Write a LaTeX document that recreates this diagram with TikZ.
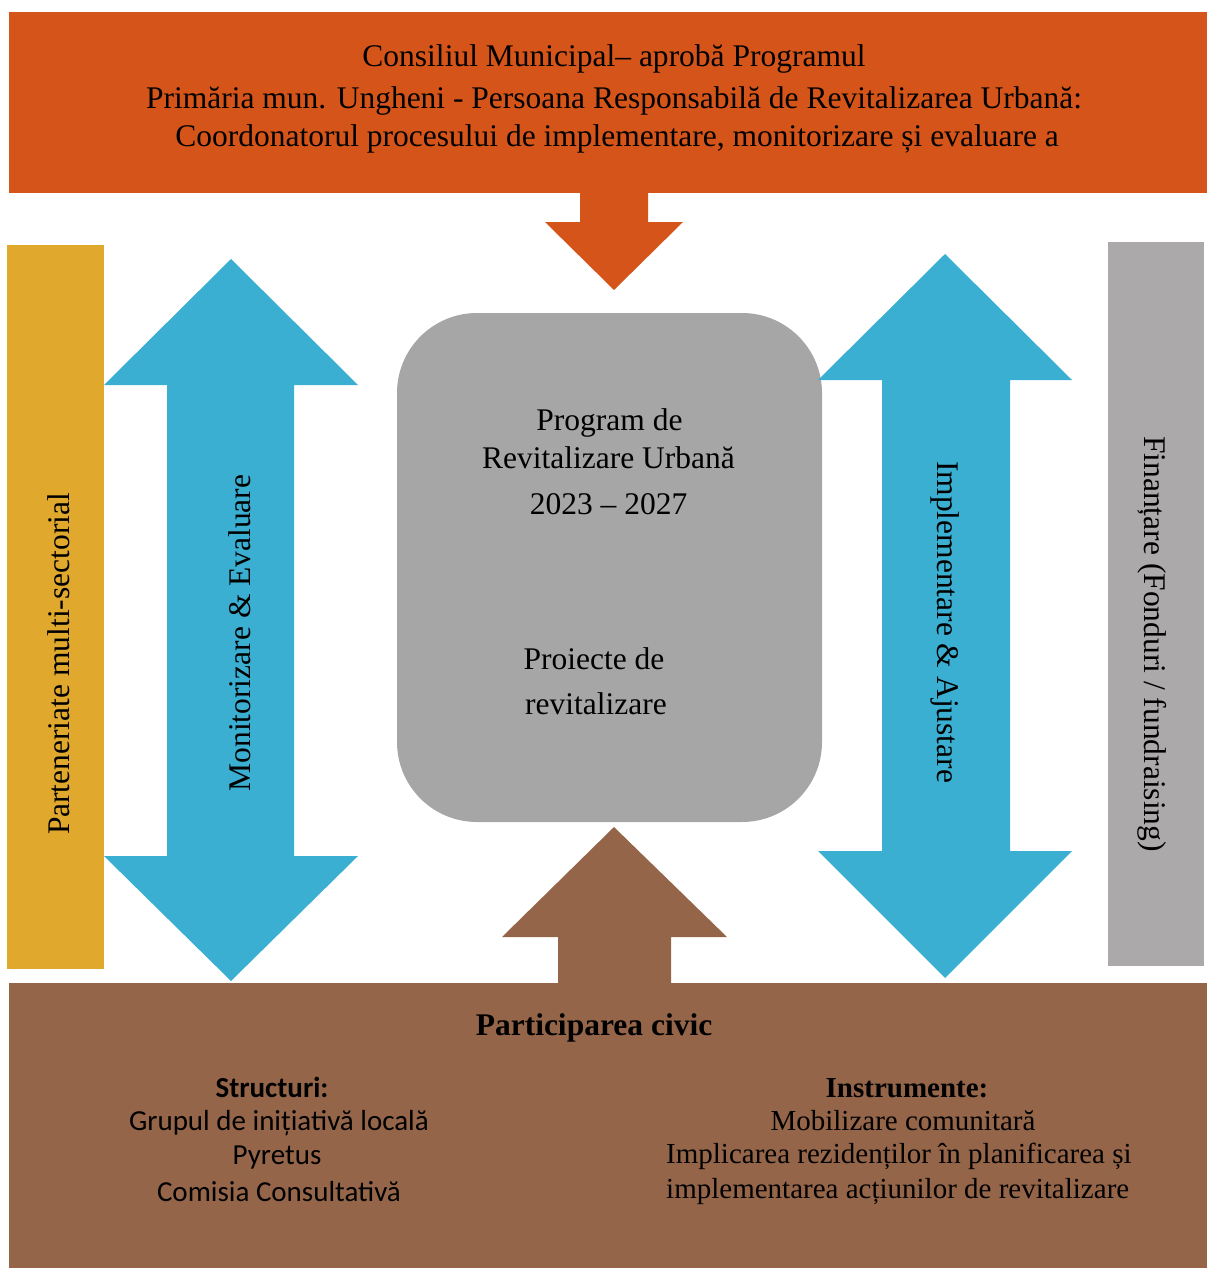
\documentclass[tikz,border=0pt]{standalone}
\usepackage{fontspec}
\setmainfont{Liberation Serif}
\newfontfamily\calfont{Carlito}
\definecolor{corange}{HTML}{D55419}
\definecolor{cyellow}{HTML}{E0A92E}
\definecolor{cblue}{HTML}{3AAFD2}
\definecolor{cgray}{HTML}{A6A6A6}
\definecolor{cgraybar}{HTML}{ABA9AA}
\definecolor{cbrown}{HTML}{956549}
\tikzset{
  txt/.style={inner sep=0pt, font=\fontsize{31.5}{40}\selectfont, text=black},
  sanstxt/.style={inner sep=0pt, font=\calfont\fontsize{29}{36}\selectfont, text=black},
  blockarrow/.style={fill=cblue, draw=none},
}
\begin{document}
\begin{tikzpicture}[x=1pt,y=-1pt]
\useasboundingbox (0,0) rectangle (1207,1268);
% top box
\fill[corange] (9,12) rectangle (1207,193);
\node[txt, anchor=base] (t1) at (614,67) {Consiliul Municipal– aprobă Programul};
\node[txt, anchor=base] (t2) at (614,109) {Primăria mun. Ungheni - Persoana Responsabilă de Revitalizarea Urbană:};
\node[txt, anchor=base] (t3) at (617,147) {Coordonatorul procesului de implementare, monitorizare și evaluare a};
% down arrow
\fill[corange] (580,190) -- (648,190) -- (648,222) -- (683,222) -- (614,290) -- (545,222) -- (580,222) -- cycle;
% side bars
\fill[cyellow] (7,245) rectangle (104,969);
\node[txt, rotate=90] (part) at (58.5,664) {Parteneriate multi-sectorial};
\fill[cgraybar] (1108,242) rectangle (1204,966);
\node[txt, rotate=-90] (fin) at (1152,644) {Finanțare (Fonduri / fundraising)};
% center
\node[fill=cgray, draw=none, rounded corners=80pt, minimum width=425pt, minimum height=509pt, inner sep=0pt] (prog) at (609.5,567.5) {};
\node[txt, anchor=base] (p1) at (609.5,430) {Program de};
\node[txt, anchor=base] (p2) at (608.5,468) {Revitalizare Urbană};
\node[txt, anchor=base] (p3) at (608.5,514) {2023 – 2027};
\node[txt, anchor=base] (p4) at (594,669) {Proiecte de};
\node[txt, anchor=base] (p5) at (596,714) {revitalizare};
% left double arrow
\fill[blockarrow] (231,259) -- (358,385) -- (294,385) -- (294,856) -- (358,856) -- (231,981) -- (104,856) -- (167,856) -- (167,385) -- (104,385) -- cycle;
\node[txt, rotate=90] (mon) at (240,633) {Monitorizare \& Evaluare};
% right double arrow
\fill[blockarrow] (945,254) -- (1072,380) -- (1010,380) -- (1010,851) -- (1072,851) -- (945,978) -- (818,851) -- (882,851) -- (882,380) -- (818,380) -- cycle;
\node[txt, rotate=-90] (imp) at (945,622) {Implementare \& Ajustare};
% bottom box
\fill[cbrown] (9,983) rectangle (1207,1268);
\fill[cbrown] (614,827) -- (727,937) -- (671,937) -- (671,986) -- (558,986) -- (558,937) -- (502,937) -- cycle;
\node[txt, anchor=base, font=\bfseries\fontsize{31.5}{40}\selectfont] (civ) at (594,1035) {Participarea civic};
\node[sanstxt, anchor=base, font=\calfont\bfseries\fontsize{29}{36}\selectfont] (s0) at (272,1097) {Structuri:};
\node[sanstxt, anchor=base] (s1) at (279,1130) {Grupul de inițiativă locală};
\node[sanstxt, anchor=base] (s2) at (277,1164) {Pyretus};
\node[sanstxt, anchor=base] (s3) at (279,1201) {Comisia Consultativă};
\node[txt, anchor=base, font=\bfseries\fontsize{29}{36}\selectfont] (i0) at (907,1097) {Instrumente:};
\node[txt, anchor=base, font=\fontsize{29}{36}\selectfont] (i1) at (903,1130) {Mobilizare comunitară};
\node[txt, anchor=base west, font=\fontsize{29}{36}\selectfont] (i2) at (666,1163) {Implicarea rezidenților în planificarea și};
\node[txt, anchor=base west, font=\fontsize{29}{36}\selectfont] (i3) at (666,1198) {implementarea acțiunilor de revitalizare};
\end{tikzpicture}
\end{document}
